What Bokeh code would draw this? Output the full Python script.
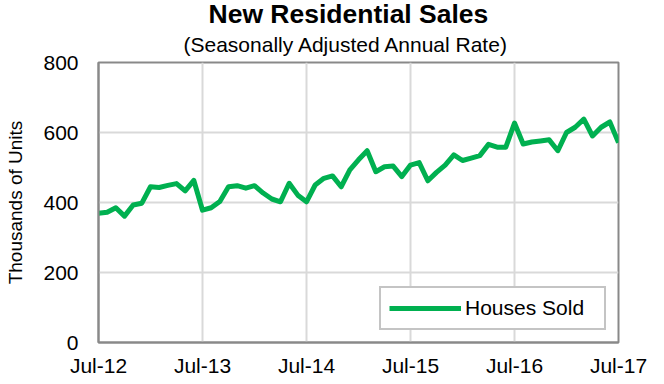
from bokeh.plotting import figure
from bokeh.models import Title, Legend, LegendItem, FixedTicker, Range1d
from bokeh.embed import file_html
from bokeh.resources import INLINE

# Monthly new residential sales, Jul-2012 .. Jul-2017 (thousands, SAAR)
sales = [369, 372, 385, 361, 393, 398,
         445, 443, 449, 454, 433, 463, 378, 385, 403, 445, 448, 441,
         448, 427, 410, 402, 455, 421, 402, 450, 469, 476, 445, 493,
         522, 548, 488, 502, 504, 474, 507, 514, 462, 486, 507, 536,
         520, 527, 534, 566, 558, 558, 627, 567, 573, 576, 579, 548,
         600, 615, 638, 590, 615, 630, 571]
month_index = list(range(len(sales)))
tick_positions = [0, 12, 24, 36, 48, 60]
tick_labels = ["Jul-12", "Jul-13", "Jul-14", "Jul-15", "Jul-16", "Jul-17"]
y_ticks = [0, 200, 400, 600, 800]

FONT = "Liberation Sans"
GRAY = "#898989"

p = figure(width=664, height=384, output_backend="svg", toolbar_location=None,
           title=None,
           x_range=Range1d(0, 60), y_range=Range1d(0, 800),
           min_border_left=98, min_border_right=46,
           min_border_top=0, min_border_bottom=42)
p.background_fill_color = "white"
p.border_fill_color = "white"

sub = Title(text="(Seasonally Adjusted Annual Rate)", align="left",
            text_font=FONT, text_font_size="21px", text_font_style="normal",
            text_color="black", offset=85, standoff=13)
main = Title(text="New Residential Sales", align="left",
             text_font=FONT, text_font_size="26.5px", text_font_style="bold",
             text_color="black", offset=110, standoff=-8)
p.add_layout(sub, "above")
p.add_layout(main, "above")

r = p.line(month_index, sales, line_color="#00B050", line_width=5,
           line_join="round")

p.outline_line_color = GRAY
p.outline_line_width = 2

for ax in (p.xaxis[0], p.yaxis[0]):
    ax.axis_line_color = GRAY
    ax.axis_line_width = 2
    ax.major_tick_out = 0
    ax.major_tick_in = 0
    ax.minor_tick_out = 0
    ax.minor_tick_in = 0
    ax.major_label_text_font = FONT
    ax.major_label_text_font_size = "21px"
    ax.major_label_text_color = "black"

p.xaxis.ticker = FixedTicker(ticks=tick_positions)
p.xaxis.major_label_overrides = {t: l for t, l in zip(tick_positions, tick_labels)}
p.xaxis.major_label_standoff = 11
p.yaxis.ticker = FixedTicker(ticks=y_ticks)
p.yaxis.major_label_standoff = 20
p.yaxis.axis_label = "Thousands of Units"
p.yaxis.axis_label_text_font = FONT
p.yaxis.axis_label_text_font_size = "19px"
p.yaxis.axis_label_text_font_style = "normal"
p.yaxis.axis_label_text_color = "black"
p.yaxis.axis_label_standoff = 14

p.xgrid.ticker = FixedTicker(ticks=tick_positions)
p.ygrid.ticker = FixedTicker(ticks=y_ticks)
for g in (p.xgrid[0], p.ygrid[0]):
    g.grid_line_color = "#d9d9d9"
    g.grid_line_width = 2

legend = Legend(items=[LegendItem(label="Houses Sold", renderers=[r])],
                location="bottom_right", margin=12, padding=8,
                glyph_width=72, glyph_height=20, label_standoff=4,
                label_width=131, label_text_font=FONT,
                label_text_font_size="21px", label_text_color="black",
                border_line_color=GRAY, border_line_width=2,
                background_fill_color="white", background_fill_alpha=1)
p.add_layout(legend)

open("out.html", "w").write(file_html(p, INLINE))
